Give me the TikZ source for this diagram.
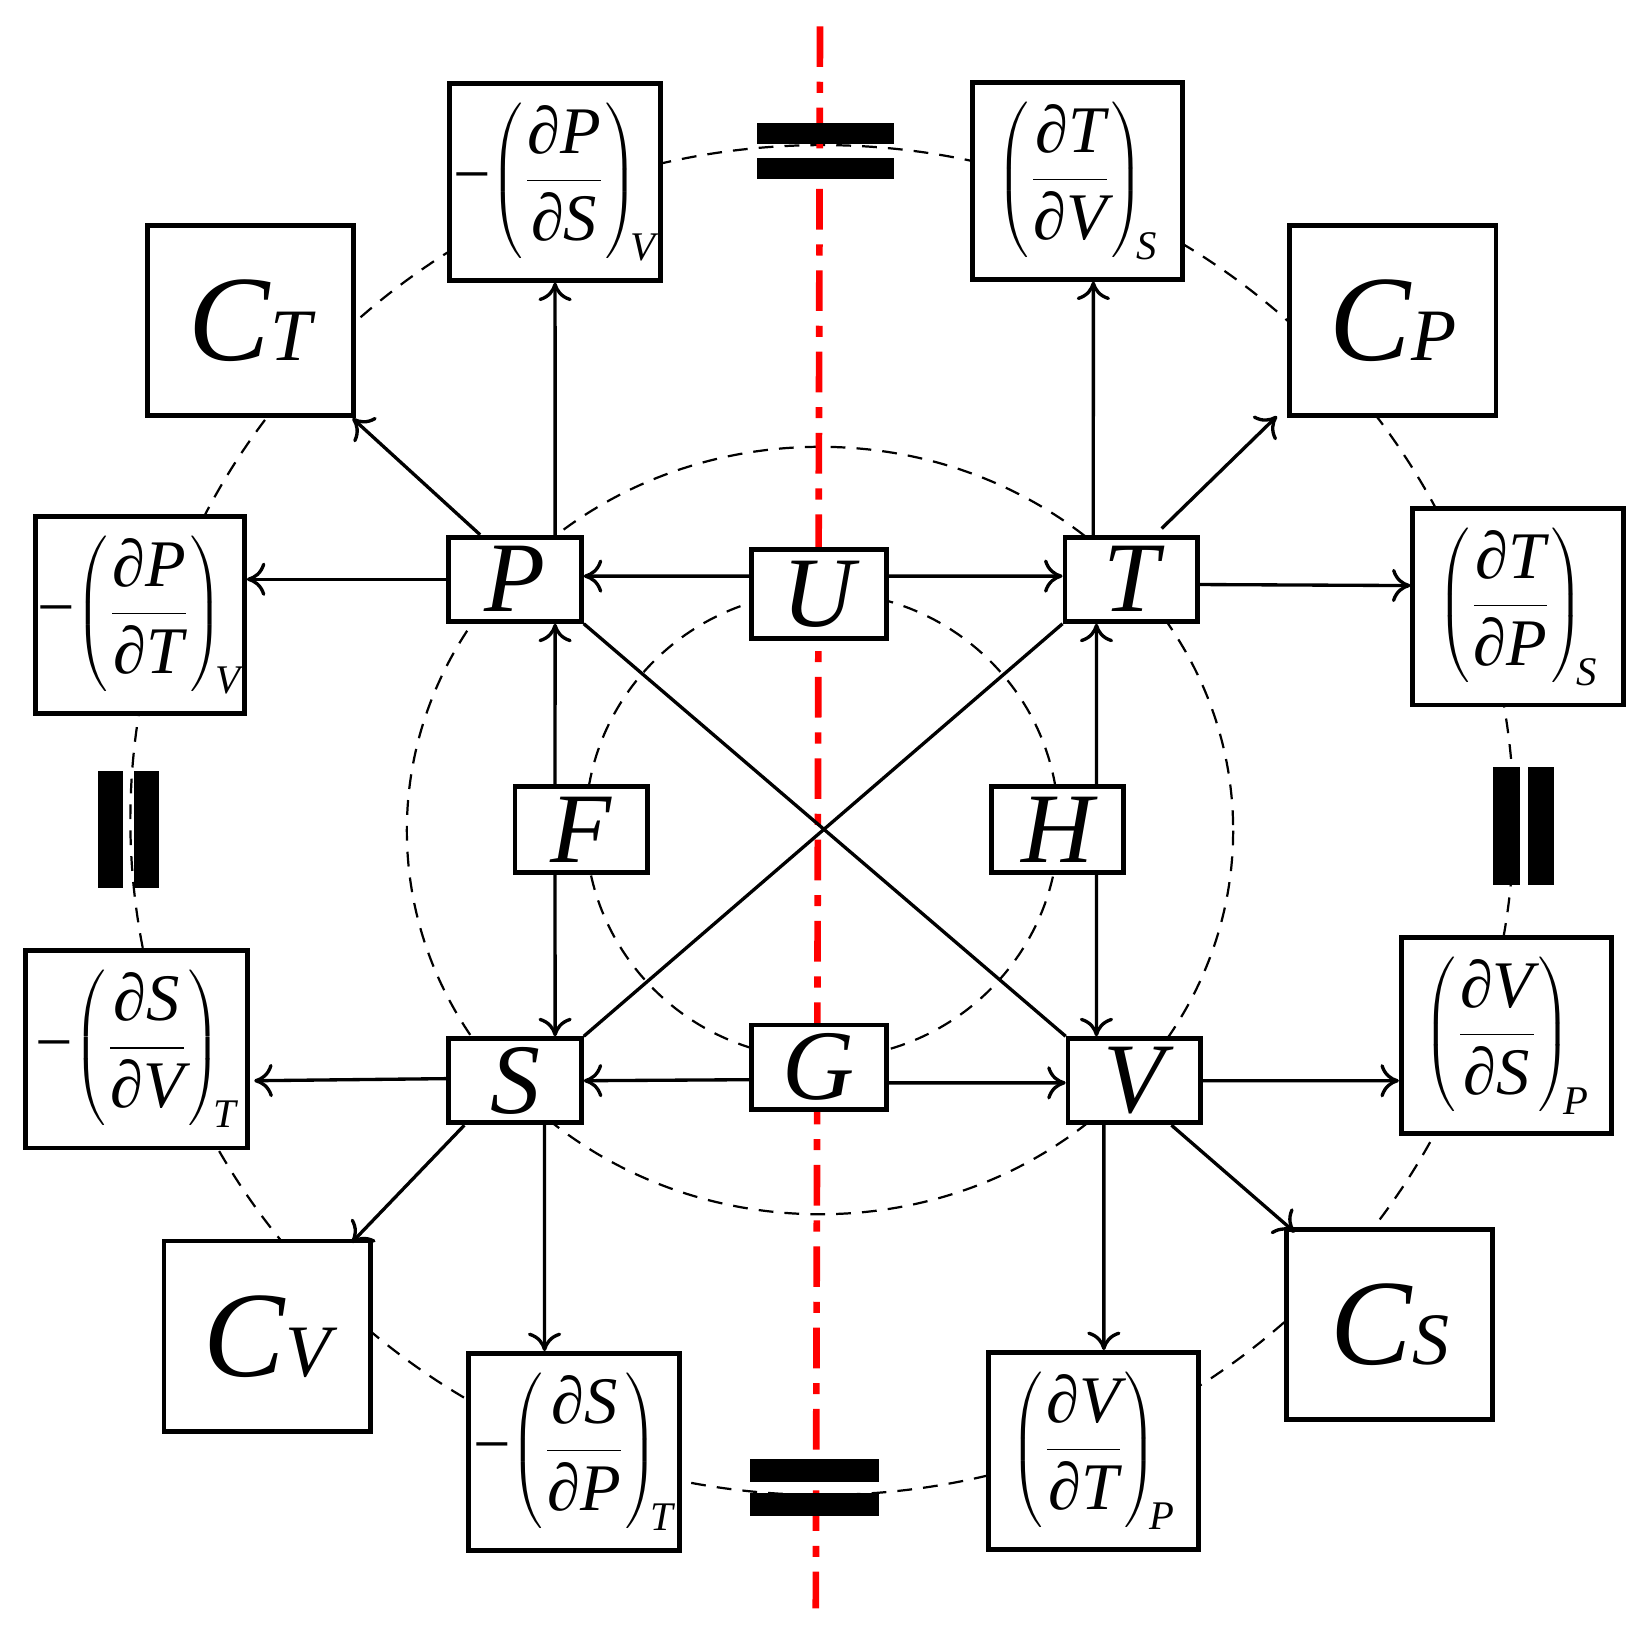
\documentclass[tikz,border=0pt]{standalone}
\usepackage{fontspec}
\setmainfont{Liberation Serif}
\usetikzlibrary{calc,arrows.meta}
\newcommand{\pdv}[4]{\fontsize{18}{22}\selectfont #1$\displaystyle\left(\frac{\mbox{\itshape ∂#2}}{\mbox{\itshape ∂#3}}\right)_{\!\mbox{\fontsize{11}{12}\selectfont\itshape #4}}$}
\newcommand{\capv}[2]{\fontsize{33}{36}\selectfont\itshape #1\fontsize{20}{22}\selectfont #2}
\begin{document}
\begin{tikzpicture}[x=0.01cm,y=-0.01cm,
  st/.style={draw,line width=1.3pt,fill=white,inner sep=0pt,minimum width=1.26cm,minimum height=0.8cm,font=\fontsize{27}{30}\selectfont\itshape},
  db/.style={draw,line width=1.3pt,fill=white,inner sep=0pt,minimum width=2cm,minimum height=1.87cm},
  cb/.style={draw,line width=1.3pt,fill=white,inner sep=0pt,minimum width=1.96cm,minimum height=1.81cm},
  ar/.style={-{To[length=5pt,width=9pt]},line width=0.9pt},
  ln/.style={line width=0.9pt},
  dsh/.style={dashed,dash pattern=on 4pt off 3pt,line width=0.6pt},
  plate/.style={fill=black}]
\useasboundingbox (0,0) rectangle (1560,1550.5);
% circles
\draw[dsh] (782,780) ellipse [x radius=658,y radius=642];
\draw[dsh] (780,790) ellipse [x radius=393,y radius=365];
\draw[dsh] (782,785) ellipse [x radius=225,y radius=222];
% red axis
\draw[red,line width=1.8pt,dash pattern=on 11pt off 4pt on 3pt off 4pt] (780,25) -- (776,1530);
% capacitors
\fill[plate] (720,117) rectangle (850,137); \fill[plate] (720,150) rectangle (850,170);
\fill[plate] (713,1388) rectangle (836,1410); \fill[plate] (713,1420) rectangle (836,1442);
\fill[plate] (93,733) rectangle (117,845); \fill[plate] (127,733) rectangle (151,845);
\fill[plate] (1420,730) rectangle (1446,842); \fill[plate] (1453,730) rectangle (1478,842);
% inner nodes
\node[st] (P) at (490,551) {P};
\node[st,minimum width=1.28cm,minimum height=0.84cm] (U) at (779,565) {U};
\node[st] (T) at (1076,551) {T};
\node[st,minimum height=0.82cm] (F) at (553,789) {F};
\node[st,minimum height=0.82cm] (H) at (1006,789) {H};
\node[st] (S) at (490,1028) {S};
\node[st,minimum width=1.28cm] (G) at (779,1015) {G};
\node[st] (V) at (1079,1028) {V};
% outer nodes
\node[db] (PS) at (528,173) {\pdv{−}{P}{S}{V}};
\node[db] (TV) at (1025,172) {\pdv{}{T}{V}{S}};
\node[cb] (CT) at (238,305) {\capv{C}{T}};
\node[cb] (CP) at (1325,305) {\capv{C}{P}};
\node[db,minimum width=1.99cm,minimum height=1.88cm] (PT) at (133,585) {\pdv{−}{P}{T}{V}};
\node[db] (TP) at (1444,577) {\pdv{}{T}{P}{S}};
\node[db,minimum width=2.11cm,minimum height=1.88cm] (SV) at (130,998) {\pdv{−}{S}{V}{T}};
\node[db] (VS) at (1433,985) {\pdv{}{V}{S}{P}};
\node[cb] (CV) at (254,1271) {\capv{C}{V}};
\node[cb] (CS) at (1322,1260) {\capv{C}{S}};
\node[db] (SP) at (546,1381) {\pdv{−}{S}{P}{T}};
\node[db] (VT) at (1040,1380) {\pdv{}{V}{T}{P}};
% diagonals
\draw[ln] (P.south east) -- (V.north west);
\draw[ln] (T.south west) -- (S.north east);
% U and G
\draw[ar] ([yshift=0.17cm]U.west) -- ([yshift=0.03cm]P.east);
\draw[ar] ([yshift=0.17cm]U.east) -- ([yshift=0.03cm]T.west);
\draw[ar] ([yshift=-0.12cm]G.west) -- (S.east);
\draw[ar] ([yshift=-0.15cm]G.east) -- ([yshift=-0.02cm]V.west);
% F and H
\draw[ar] ([xshift=-0.25cm]F.north) -- ([xshift=0.38cm]P.south);
\draw[ar] ([xshift=-0.25cm]F.south) -- ([xshift=0.38cm]S.north);
\draw[ar] ([xshift=0.37cm]H.north) -- ([xshift=-0.33cm]T.south);
\draw[ar] ([xshift=0.37cm]H.south) -- ([xshift=-0.36cm]V.north);
% P
\draw[ar] (P.west) -- (PT.east |- P.west);
\draw[ar] ([xshift=0.32cm]P.north west) -- ([xshift=-0.03cm]CT.south east);
\draw[ar] ([xshift=0.38cm]P.north) -- (PS.south);
% T
\draw[ar] ([xshift=-0.36cm]T.north) -- ([xshift=0.15cm]TV.south);
\draw[ar] ([xshift=0.29cm,yshift=0.06cm]T.north) -- ([xshift=-0.1cm,yshift=0.02cm]CP.south west);
\draw[ar] ([yshift=-0.05cm]T.east) -- ([yshift=0.2cm]TP.west);
% S
\draw[ar] ([yshift=0.02cm]S.west) -- ([xshift=0.04cm]SV.east |- S.west);
\draw[ar] ([xshift=0.17cm]S.south west) -- ([xshift=-0.2cm,yshift=-0.04cm]CV.north east);
\draw[ar] ([xshift=0.28cm]S.south) -- ([xshift=-0.28cm]SP.north);
% V
\draw[ar] (V.east) -- ([yshift=-0.43cm]VS.west);
\draw[ar] ([xshift=-0.3cm]V.south east) -- ([xshift=0.1cm,yshift=-0.05cm]CS.north west);
\draw[ar] ([xshift=-0.29cm]V.south) -- ([xshift=0.1cm]VT.north);
\end{tikzpicture}
\end{document}
